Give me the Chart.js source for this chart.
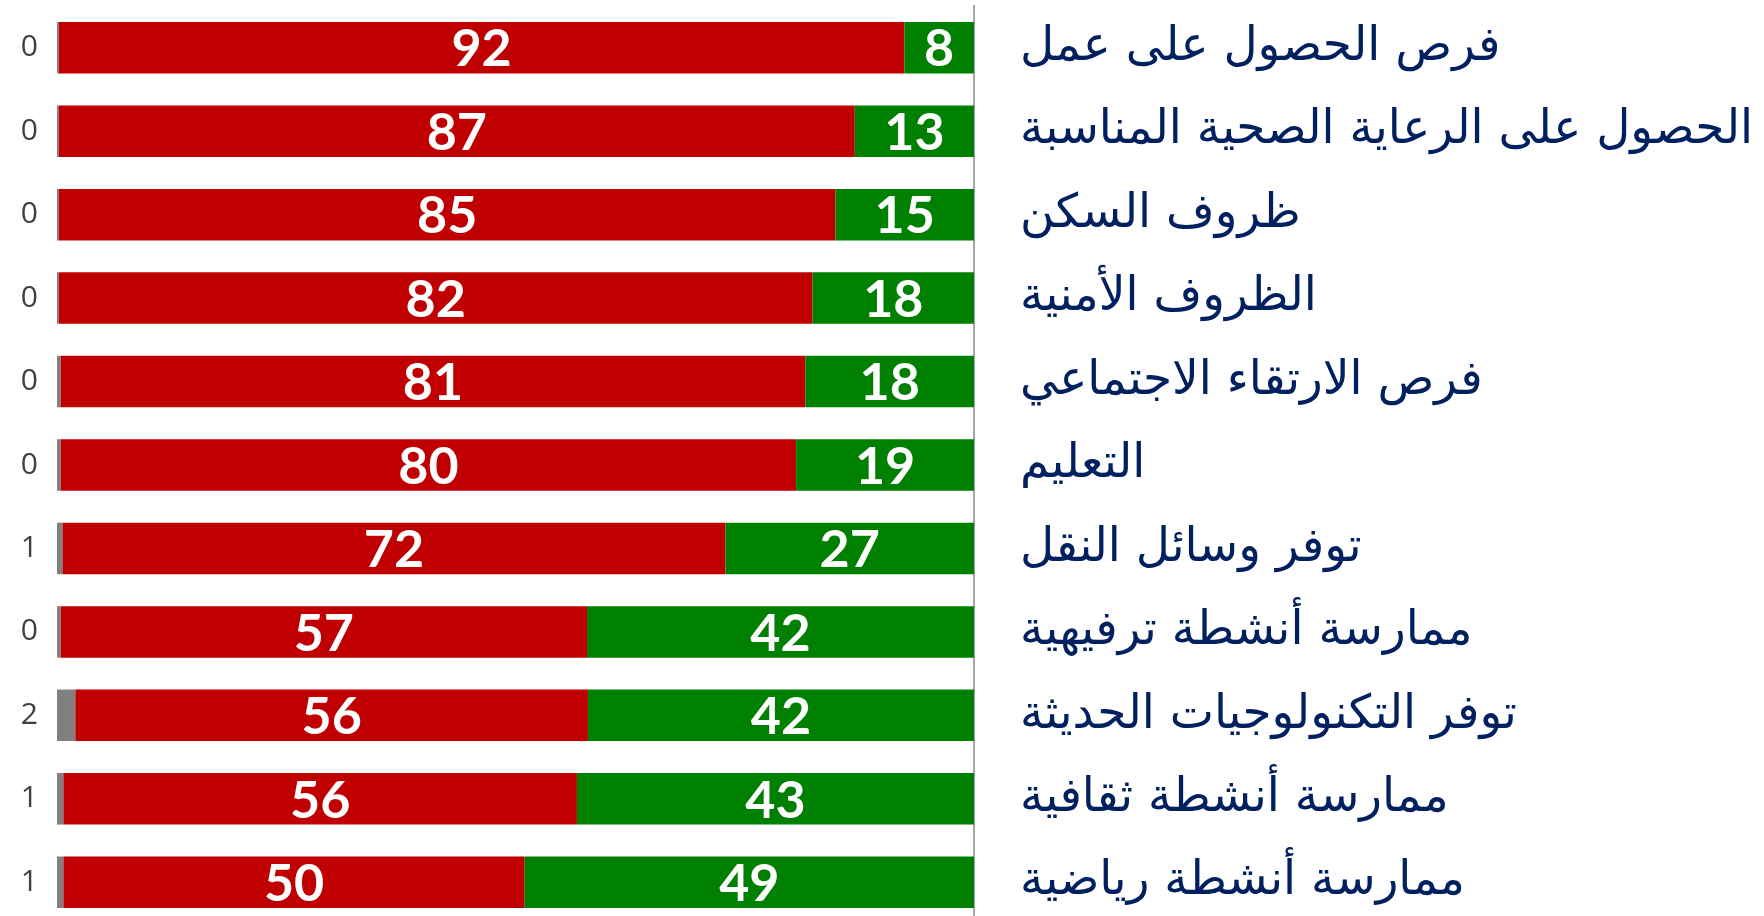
<!DOCTYPE html>
<html lang="ar">
<head>
  <meta charset="UTF-8">
  <title>chart</title>
  <script src="https://cdn.jsdelivr.net/npm/chart.js"></script>
  <style>
    html, body { margin: 0; padding: 0; background: #fff; overflow: hidden; }
    .chart-box { position: relative; width: 1764px; height: 924px; }
  </style>
</head>
<body>
  <div class="chart-box">
    <canvas id="barChart"></canvas>
  </div>

  <script>
    // categories, top to bottom
    const categories = [
      'فرص الحصول على عمل',
      'الحصول على الرعاية الصحية المناسبة',
      'ظروف السكن',
      'الظروف الأمنية',
      'فرص الارتقاء الاجتماعي',
      'التعليم',
      'توفر وسائل النقل',
      'ممارسة أنشطة ترفيهية',
      'توفر التكنولوجيات الحديثة',
      'ممارسة أنشطة ثقافية',
      'ممارسة أنشطة رياضية'
    ];

    // series values (percent)
    const greenValues = [7.6, 13.0, 15.1, 17.6, 18.4, 19.4, 27.1, 42.2, 42.1, 43.3, 49.0];
    const redValues   = [92.2, 86.8, 84.7, 82.2, 81.2, 80.2, 72.3, 57.4, 55.9, 56.0, 50.3];
    const greyValues  = [0.2, 0.2, 0.2, 0.2, 0.4, 0.4, 0.6, 0.4, 2.0, 0.7, 0.7];

    const valueLabels = {
      id: 'valueLabels',
      afterDatasetsDraw(chart) {
        const ctx = chart.ctx;
        ctx.save();
        ctx.textBaseline = 'middle';
        chart.data.datasets.forEach((ds, i) => {
          const meta = chart.getDatasetMeta(i);
          meta.data.forEach((bar, j) => {
            const txt = String(Math.round(ds.data[j]));
            if (ds.label === 'grey') {
              ctx.font = '30px "Open Sans"';
              ctx.fillStyle = '#404040';
              ctx.textAlign = 'right';
              ctx.fillText(txt, bar.x - 19, bar.y);
            } else {
              ctx.font = 'bold 52px Lato';
              ctx.fillStyle = '#ffffff';
              ctx.textAlign = 'center';
              ctx.fillText(txt, (bar.x + bar.base) / 2, bar.y + 2);
            }
          });
        });
        ctx.restore();
      }
    };

    const ctx = document.getElementById('barChart').getContext('2d');
    new Chart(ctx, {
      type: 'bar',
      data: {
        labels: categories,
        datasets: [
          { label: 'green', data: greenValues, backgroundColor: '#008000' },
          { label: 'red', data: redValues, backgroundColor: '#C00000' },
          { label: 'grey', data: greyValues, backgroundColor: '#808080' }
        ]
      },
      options: {
        indexAxis: 'y',
        responsive: true,
        maintainAspectRatio: false,
        animation: false,
        layout: { padding: { left: 57, top: 6, right: 0, bottom: 0 } },
        barPercentage: 0.617,
        categoryPercentage: 1,
        plugins: {
          legend: { display: false },
          tooltip: { enabled: false }
        },
        scales: {
          x: {
            stacked: true,
            reverse: true,
            min: 0,
            max: 100,
            display: false
          },
          y: {
            stacked: true,
            position: 'right',
            afterFit(scale) {
              scale.width = 790;
              scale.paddingTop = 0;
              scale.paddingBottom = 0;
            },
            grid: { display: false, drawTicks: false },
            border: { display: true, color: '#a6a6a6', width: 2 },
            ticks: {
              color: '#002060',
              padding: 46,
              font: { family: '"DejaVu Sans"', size: 47 }
            }
          }
        }
      },
      plugins: [valueLabels]
    });
  </script>
</body>
</html>
